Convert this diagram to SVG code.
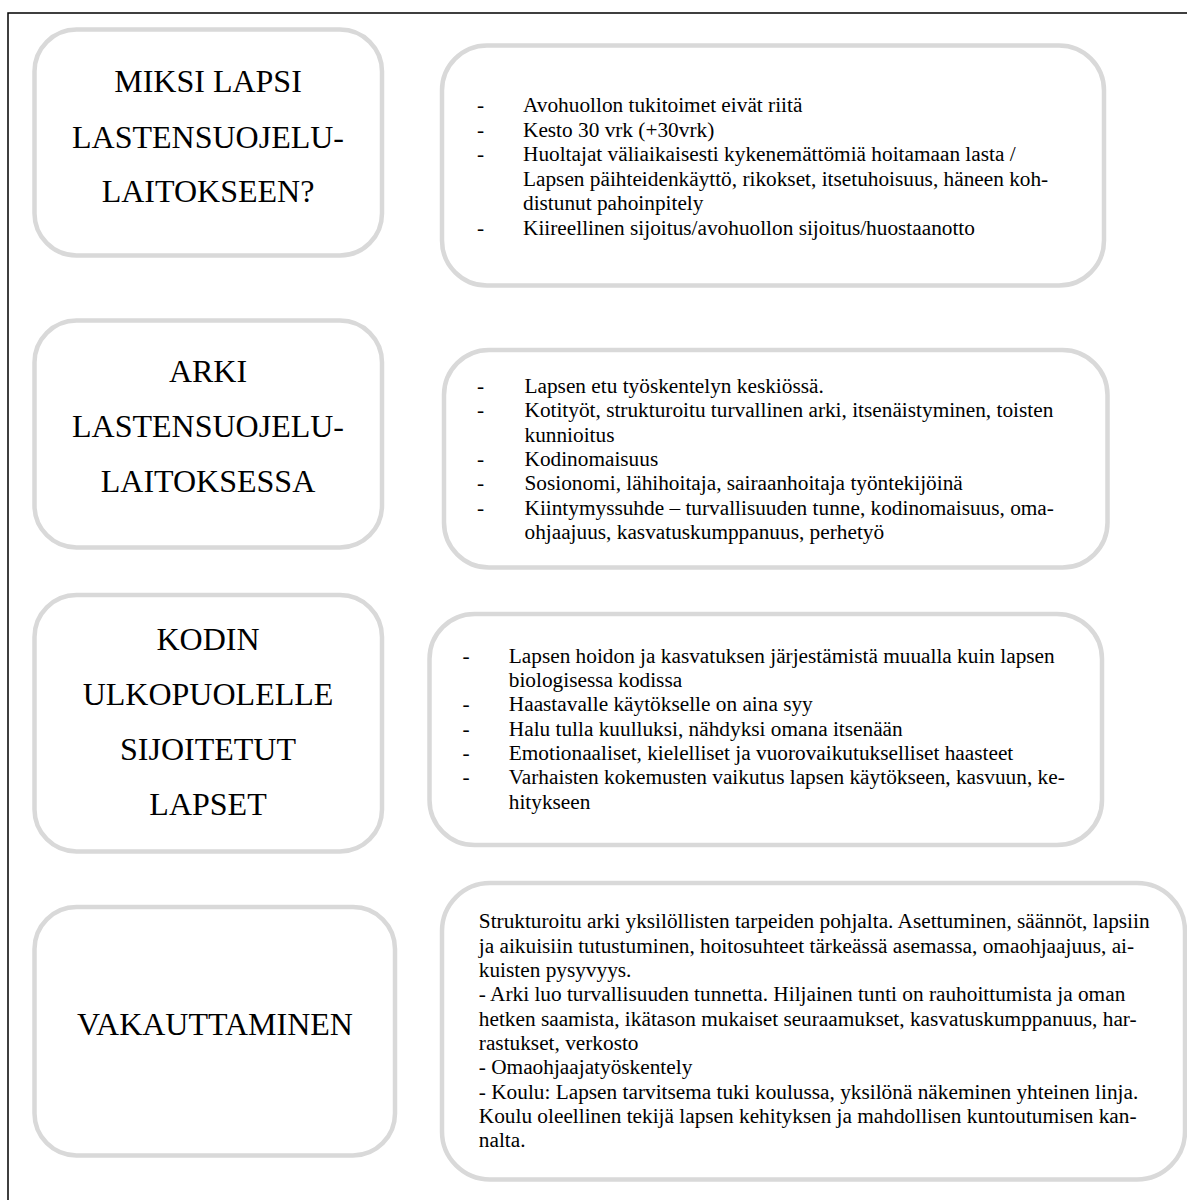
<svg xmlns="http://www.w3.org/2000/svg" width="1187" height="1200" viewBox="0 0 1187 1200">
<style>
.box{fill:#ffffff;stroke:#d9d9d9;stroke-width:4.5}
.h{font-family:"Liberation Serif","Times New Roman",serif;font-size:32px;fill:#000;text-anchor:middle}
.t{font-family:"Liberation Serif","Times New Roman",serif;font-size:21.3px;fill:#000}
.frame{fill:none;stroke:#000;stroke-width:1.5}
</style>
<rect width="1187" height="1200" fill="#ffffff"/>
<path class="frame" d="M8,1200 V13 H1187"/>
<g id="connectors"></g>

<g id="node-miksi">
<rect class="box" x="34.5" y="29.5" width="347.5" height="226" rx="42" ry="42"/>
<text class="h" x="208" y="92">MIKSI LAPSI</text>
<text class="h" x="208" y="148">LASTENSUOJELU-</text>
<text class="h" x="208" y="202">LAITOKSEEN?</text>
</g>

<g id="node-miksi-text">
<rect class="box" x="442" y="45.5" width="662" height="240" rx="45" ry="45"/>
<text class="t" x="477" y="112">-</text><text class="t" x="523" y="112">Avohuollon tukitoimet eivät riitä</text>
<text class="t" x="477" y="136.5">-</text><text class="t" x="523" y="136.5">Kesto 30 vrk (+30vrk)</text>
<text class="t" x="477" y="161">-</text><text class="t" x="523" y="161">Huoltajat väliaikaisesti kykenemättömiä hoitamaan lasta /</text>
<text class="t" x="523" y="185.5">Lapsen päihteidenkäyttö, rikokset, itsetuhoisuus, häneen koh-</text>
<text class="t" x="523" y="210">distunut pahoinpitely</text>
<text class="t" x="477" y="234.5">-</text><text class="t" x="523" y="234.5">Kiireellinen sijoitus/avohuollon sijoitus/huostaanotto</text>
</g>

<g id="node-arki">
<rect class="box" x="34.5" y="320.5" width="347.5" height="227" rx="42" ry="42"/>
<text class="h" x="208" y="381.7">ARKI</text>
<text class="h" x="208" y="436.7">LASTENSUOJELU-</text>
<text class="h" x="208" y="492.3">LAITOKSESSA</text>
</g>

<g id="node-arki-text">
<rect class="box" x="444" y="350" width="663.5" height="217.5" rx="45" ry="45"/>
<text class="t" x="477" y="393">-</text><text class="t" x="524.5" y="393">Lapsen etu työskentelyn keskiössä.</text>
<text class="t" x="477" y="417.3">-</text><text class="t" x="524.5" y="417.3">Kotityöt, strukturoitu turvallinen arki, itsenäistyminen, toisten</text>
<text class="t" x="524.5" y="441.6">kunnioitus</text>
<text class="t" x="477" y="465.9">-</text><text class="t" x="524.5" y="465.9">Kodinomaisuus</text>
<text class="t" x="477" y="490.2">-</text><text class="t" x="524.5" y="490.2">Sosionomi, lähihoitaja, sairaanhoitaja työntekijöinä</text>
<text class="t" x="477" y="514.5">-</text><text class="t" x="524.5" y="514.5">Kiintymyssuhde – turvallisuuden tunne, kodinomaisuus, oma-</text>
<text class="t" x="524.5" y="538.8">ohjaajuus, kasvatuskumppanuus, perhetyö</text>
</g>

<g id="node-kodin">
<rect class="box" x="34.5" y="595" width="347.5" height="256.5" rx="42" ry="42"/>
<text class="h" x="208" y="650">KODIN</text>
<text class="h" x="208" y="705">ULKOPUOLELLE</text>
<text class="h" x="208" y="760">SIJOITETUT</text>
<text class="h" x="208" y="815">LAPSET</text>
</g>

<g id="node-kodin-text">
<rect class="box" x="429.5" y="614" width="672.5" height="231" rx="45" ry="45"/>
<text class="t" x="462.5" y="662.7">-</text><text class="t" x="508.8" y="662.7">Lapsen hoidon ja kasvatuksen järjestämistä muualla kuin lapsen</text>
<text class="t" x="508.8" y="687">biologisessa kodissa</text>
<text class="t" x="462.5" y="711.3">-</text><text class="t" x="508.8" y="711.3">Haastavalle käytökselle on aina syy</text>
<text class="t" x="462.5" y="735.6">-</text><text class="t" x="508.8" y="735.6">Halu tulla kuulluksi, nähdyksi omana itsenään</text>
<text class="t" x="462.5" y="759.9">-</text><text class="t" x="508.8" y="759.9">Emotionaaliset, kielelliset ja vuorovaikutukselliset haasteet</text>
<text class="t" x="462.5" y="784.2">-</text><text class="t" x="508.8" y="784.2">Varhaisten kokemusten vaikutus lapsen käytökseen, kasvuun, ke-</text>
<text class="t" x="508.8" y="808.5">hitykseen</text>
</g>

<g id="node-vakauttaminen">
<rect class="box" x="34.5" y="907" width="360.5" height="248.5" rx="42" ry="42"/>
<text class="h" x="215" y="1035">VAKAUTTAMINEN</text>
</g>

<g id="node-vakauttaminen-text">
<rect class="box" x="442" y="883" width="743" height="296.5" rx="48" ry="48"/>
<text class="t" x="478.8" y="928.3">Strukturoitu arki yksilöllisten tarpeiden pohjalta. Asettuminen, säännöt, lapsiin</text>
<text class="t" x="478.8" y="952.6">ja aikuisiin tutustuminen, hoitosuhteet tärkeässä asemassa, omaohjaajuus, ai-</text>
<text class="t" x="478.8" y="977">kuisten pysyvyys.</text>
<text class="t" x="478.8" y="1001.3">- Arki luo turvallisuuden tunnetta. Hiljainen tunti on rauhoittumista ja oman</text>
<text class="t" x="478.8" y="1025.6">hetken saamista, ikätason mukaiset seuraamukset, kasvatuskumppanuus, har-</text>
<text class="t" x="478.8" y="1050">rastukset, verkosto</text>
<text class="t" x="478.8" y="1074.3">- Omaohjaajatyöskentely</text>
<text class="t" x="478.8" y="1098.6">- Koulu: Lapsen tarvitsema tuki koulussa, yksilönä näkeminen yhteinen linja.</text>
<text class="t" x="478.8" y="1123">Koulu oleellinen tekijä lapsen kehityksen ja mahdollisen kuntoutumisen kan-</text>
<text class="t" x="478.8" y="1147.3">nalta.</text>
</g>
</svg>
